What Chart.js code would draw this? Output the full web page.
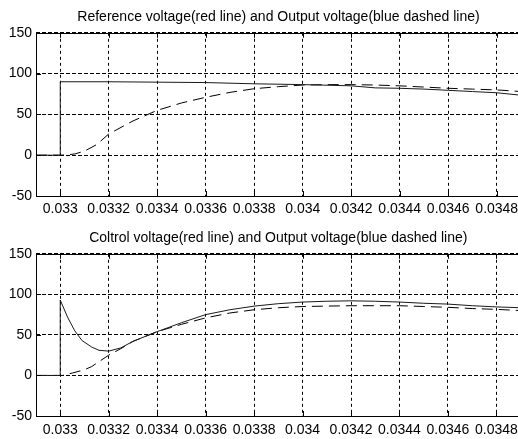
<!DOCTYPE html>
<html>
<head>
<meta charset="utf-8">
<script src="https://cdn.jsdelivr.net/npm/chart.js@4.4.0/dist/chart.umd.min.js"></script>
<style>
  html, body { margin: 0; padding: 0; background: #fff; overflow: hidden; }
  #wrap { position: relative; width: 518px; height: 439px; overflow: hidden; }
  .box { position: absolute; left: 0; width: 524px; }
</style>
</head>
<body>
<div id="wrap">
  <div class="box" style="top:0;height:219px"><canvas id="topChart"></canvas></div>
  <div class="box" style="top:219px;height:220px"><canvas id="bottomChart"></canvas></div>
</div>
<script>
// axis ticks
var xTicks = [0.033, 0.0332, 0.0334, 0.0336, 0.0338, 0.034, 0.0342, 0.0344, 0.0346, 0.0348];
var xTickLabels = ['0.033', '0.0332', '0.0334', '0.0336', '0.0338', '0.034', '0.0342', '0.0344', '0.0346', '0.0348'];
var yTicks = [-50, 0, 50, 100, 150];

var titleTop = 'Reference voltage(red line) and Output voltage(blue dashed line)';
var titleBottom = 'Coltrol voltage(red line) and Output voltage(blue dashed line)';

// top: reference voltage (solid) and output voltage (dashed)
var tRef = [0.0329, 0.033, 0.033, 0.0332, 0.0334, 0.0336, 0.0338, 0.034, 0.0342, 0.0343, 0.0344, 0.0345, 0.0346, 0.0347, 0.0348, 0.0349];
var vRef = [0, 0, 90, 90, 89.5, 89, 87.5, 86.5, 85, 82.5, 82, 81, 79.5, 78, 76.5, 73.5];
var tOut1 = [0.0329, 0.033, 0.03303, 0.03306, 0.0331, 0.03315, 0.0332, 0.0333, 0.0334, 0.0335, 0.0336, 0.0337, 0.0338, 0.0339, 0.034, 0.0341, 0.0342, 0.0343, 0.0344, 0.0345, 0.0346, 0.0347, 0.0348, 0.0349];
var vOut1 = [0, 0, 0.5, 1.5, 5, 13, 26, 42, 55, 64, 71, 77, 81.5, 84, 86, 86.5, 86.5, 86, 85, 83.5, 82, 81, 80, 78];

// bottom: control voltage (solid) and output voltage (dashed)
var tCtl = [0.0329, 0.033, 0.033, 0.03303, 0.03306, 0.03309, 0.03313, 0.03316, 0.0332, 0.03325, 0.0333, 0.0334, 0.0335, 0.0336, 0.0337, 0.0338, 0.0339, 0.034, 0.0341, 0.0342, 0.0343, 0.0344, 0.0345, 0.0346, 0.0347, 0.0348, 0.0349];
var vCtl = [0, 0, 93, 72, 55, 43, 35, 31, 30, 34, 42, 54, 65, 75, 81, 85.5, 88.5, 90.5, 91.5, 92, 91.5, 90.5, 89, 88, 86, 84.5, 83.5];
var tOut2 = [0.0329, 0.033, 0.03301, 0.03305, 0.0331, 0.03313, 0.0332, 0.03325, 0.0333, 0.0334, 0.0335, 0.0336, 0.0337, 0.0338, 0.0339, 0.034, 0.0341, 0.0342, 0.0343, 0.0344, 0.0345, 0.0346, 0.0347, 0.0348, 0.0349];
var vOut2 = [0, 0, 0, 3, 7, 11, 25, 33, 42, 54, 63, 71, 77, 81, 83.5, 85, 85.5, 86, 86, 86, 85, 84, 82.5, 81.5, 80];

function pts(t, v) {
    return t.map(function (x, i) { return { x: x, y: v[i] }; });
}

var font = 'Arial, "Liberation Sans", sans-serif';

// box round the plot with inward tick marks, matlab style
var boxPlugin = {
    id: 'box',
    afterDraw: function (chart) {
        var a = chart.chartArea, ctx = chart.ctx;
        var xs = chart.scales.x, ys = chart.scales.y;
        ctx.save();
        ctx.strokeStyle = '#000';
        ctx.lineWidth = 1;
        ctx.setLineDash([]);
        ctx.strokeRect(Math.round(a.left) + 0.5, Math.round(a.top) + 0.5, Math.round(a.right - a.left), Math.round(a.bottom - a.top));
        ctx.beginPath();
        xTicks.forEach(function (v) {
            var px = Math.round(xs.getPixelForValue(v)) + 0.5;
            ctx.moveTo(px, a.bottom); ctx.lineTo(px, a.bottom - 5);
            ctx.moveTo(px, a.top); ctx.lineTo(px, a.top + 5);
        });
        yTicks.forEach(function (v) {
            var py = Math.round(ys.getPixelForValue(v)) + 0.5;
            ctx.moveTo(a.left, py); ctx.lineTo(a.left + 5, py);
        });
        ctx.stroke();
        ctx.restore();
    }
};

function makeChart(id, title, tA, vA, tB, vB, topPad, labelPad) {
    var ctx = document.getElementById(id).getContext('2d');
    return new Chart(ctx, {
        type: 'line',
        data: {
            datasets: [
                {
                    data: pts(tA, vA),
                    borderColor: '#1a1a1a',
                    borderWidth: 1,
                    pointRadius: 0,
                    tension: 0
                },
                {
                    data: pts(tB, vB),
                    borderColor: '#000',
                    borderWidth: 1,
                    borderDash: [11, 6],
                    pointRadius: 0,
                    tension: 0
                }
            ]
        },
        options: {
            responsive: true,
            maintainAspectRatio: false,
            animation: false,
            layout: { padding: { left: 0, right: 3, top: 0, bottom: 0 } },
            plugins: {
                legend: { display: false },
                tooltip: { enabled: false },
                title: {
                    display: true,
                    fullSize: false,
                    text: title,
                    color: '#000',
                    font: { family: font, size: 14, weight: 'normal' },
                    padding: { top: topPad, bottom: 7 }
                }
            },
            scales: {
                x: {
                    type: 'linear',
                    min: 0.0329,
                    max: 0.0349,
                    afterBuildTicks: function (scale) {
                        scale.ticks = xTicks.map(function (v) { return { value: v }; });
                    },
                    afterFit: function (scale) { scale.height = 23; },
                    ticks: {
                        color: '#000',
                        font: { family: font, size: 14 },
                        padding: labelPad,
                        maxRotation: 0,
                        autoSkip: false,
                        callback: function (value, index) { return xTickLabels[index]; }
                    },
                    grid: { color: '#000', lineWidth: 1, drawTicks: false },
                    border: { display: false, dash: [3, 3] }
                },
                y: {
                    min: -50,
                    max: 150,
                    afterBuildTicks: function (scale) {
                        scale.ticks = yTicks.map(function (v) { return { value: v }; });
                    },
                    afterFit: function (scale) { scale.width = 36; },
                    ticks: {
                        color: '#000',
                        font: { family: font, size: 14 },
                        padding: 4
                    },
                    grid: { color: '#000', lineWidth: 1, drawTicks: false },
                    border: { display: false, dash: [4, 2] }
                }
            }
        },
        plugins: [boxPlugin]
    });
}

makeChart('topChart', titleTop, tRef, vRef, tOut1, vOut1, 9, 5);
makeChart('bottomChart', titleBottom, tCtl, vCtl, tOut2, vOut2, 11, 6);
</script>
</body>
</html>
